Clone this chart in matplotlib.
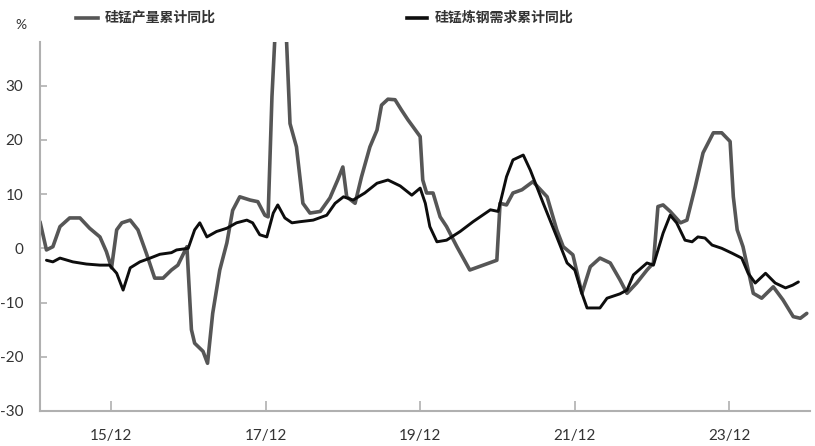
import matplotlib
matplotlib.use("Agg")
import matplotlib.pyplot as plt
from matplotlib.lines import Line2D

# x positions: months since Jan 2015 (0 = 2015-01)
prod_month = [0.0, 1.0, 2.0, 3.1, 4.6, 6.2, 7.7, 9.3, 10.3, 11.1, 11.9, 12.7, 14.0, 15.2, 16.5,
              17.8, 19.1, 20.4, 21.4, 22.8, 23.5, 24.0, 25.3, 26.0, 26.8, 27.9, 29.0, 29.9,
              31.0, 32.6, 33.8, 34.9, 35.4, 36.0, 36.5, 37.3, 38.2, 38.8, 39.8, 40.8, 41.9,
              43.5, 45.0, 46.2, 47.0, 47.6, 48.9, 49.9, 51.2, 52.3, 53.0, 54.0, 55.1, 56.1,
              57.1, 57.9, 59.0, 59.4, 60.0, 61.0, 62.1, 63.1, 64.7, 66.7, 68.8, 70.9, 71.4,
              72.4, 73.4, 74.8, 76.5, 78.7, 80.2, 81.2, 82.7, 84.1, 85.4, 86.9, 88.5, 90.0,
              91.1, 92.6, 94.2, 95.2, 95.9, 96.7, 97.8, 99.4, 100.4, 101.7, 102.9, 104.5,
              105.8, 107.1, 107.6, 108.2, 109.1, 110.7, 112.0, 113.8, 115.3, 116.9, 118.0, 119.0]
prod_yoy = [4.9, -0.3, 0.3, 4.0, 5.6, 5.6, 3.7, 2.1, -0.6, -3.6, 3.4, 4.7, 5.2, 3.4, -0.9,
            -5.5, -5.5, -4.0, -3.1, 0.3, -15.0, -17.5, -19.0, -21.2, -12.0, -4.0, 1.0, 7.0,
            9.5, 8.9, 8.6, 6.1, 5.8, 28.0, 40.0, 48.0, 40.0, 23.0, 18.7, 8.3, 6.5,
            6.8, 9.3, 12.6, 15.0, 9.5, 8.3, 13.2, 18.7, 21.8, 26.4, 27.5, 27.4, 25.5,
            23.7, 22.4, 20.6, 12.6, 10.2, 10.2, 5.8, 4.0, 0.3, -4.0, -3.1, -2.2, 8.3,
            8.0, 10.2, 10.8, 12.3, 9.5, 3.4, 0.3, -1.2, -8.3, -3.4, -1.8, -2.7, -5.8,
            -8.3, -6.4, -4.0, -2.7, 7.7, 8.0, 6.8, 4.7, 5.2, 11.4, 17.6, 21.3,
            21.3, 19.7, 9.5, 3.4, 0.3, -8.3, -9.2, -7.1, -9.5, -12.6, -12.9, -12.0]

dem_month = [1.0, 2.0, 3.1, 5.1, 7.2, 9.3, 10.8, 11.9, 12.9, 14.0, 15.5, 17.1, 18.6, 20.4,
             21.2, 23.0, 24.0, 24.8, 25.9, 27.4, 29.0, 30.5, 32.1, 33.0, 34.1, 35.2, 36.2,
             36.9, 38.0, 39.1, 40.3, 42.4, 44.5, 45.8, 47.1, 48.6, 50.4, 52.3, 54.0, 55.9,
             57.7, 59.0, 59.8, 60.5, 61.6, 63.1, 65.2, 67.2, 69.9, 71.1, 72.4, 73.4, 75.0,
             76.1, 78.1, 80.2, 81.8, 83.0, 84.1, 84.9, 86.9, 88.0, 90.0, 91.1, 92.1, 94.2,
             95.2, 96.7, 97.8, 98.8, 100.1, 101.2, 102.1, 103.2, 104.3, 105.8, 107.4, 108.9,
             109.9, 111.0, 112.6, 114.1, 115.7, 116.8, 117.7]
dem_yoy = [-2.2, -2.5, -1.8, -2.5, -2.9, -3.1, -3.1, -4.6, -7.7, -3.6, -2.5, -1.8, -1.1, -0.8,
           -0.3, 0.0, 3.4, 4.7, 2.1, 3.1, 3.7, 4.7, 5.2, 4.7, 2.5, 2.1, 6.5,
           8.0, 5.6, 4.7, 4.9, 5.2, 6.1, 8.3, 9.5, 8.9, 10.2, 12.0, 12.6, 11.5,
           9.8, 11.1, 8.3, 4.0, 1.2, 1.5, 3.1, 4.9, 7.1, 6.8, 13.2, 16.3, 17.2,
           14.4, 8.3, 2.1, -2.7, -4.0, -8.3, -11.0, -11.0, -9.2, -8.4, -7.7, -4.9, -2.7,
           -3.1, 2.8, 6.1, 4.7, 1.5, 1.2, 2.1, 1.9, 0.6, 0.0, -0.9, -1.8,
           -4.6, -6.4, -4.6, -6.4, -7.3, -6.8, -6.2]

tick_months = [11, 35, 59, 83, 107]
tick_labels = ["15/12", "17/12", "19/12", "21/12", "23/12"]
y_ticks = [-30, -20, -10, 0, 10, 20, 30]

series_names = ["硅锰产量累计同比", "硅锰炼钢需求累计同比"]

GRAY = "#565656"
BLACK = "#0d0d0d"
AXC = "#b0b0b0"
TXT = "#333333"

fig = plt.figure(figsize=(8.15, 4.46), dpi=100)
ax = fig.add_axes([40 / 815, 35 / 446, 770 / 815, (411 - 41.7) / 446])

ax.plot(prod_month, prod_yoy, color=GRAY, lw=2.6, solid_joinstyle="round", solid_capstyle="round", zorder=2)
ax.plot(dem_month, dem_yoy, color=BLACK, lw=2.1, solid_joinstyle="round", solid_capstyle="round", zorder=3)

ax.set_xlim(0, 119.5)
ax.set_ylim(-30, 38.1)

for s in ["top", "right"]:
    ax.spines[s].set_visible(False)
for s in ["left", "bottom"]:
    ax.spines[s].set_color(AXC)
    ax.spines[s].set_linewidth(1.5)

ax.set_xticks(tick_months)
ax.set_xticklabels(tick_labels)
ax.set_yticks(y_ticks)
ax.set_yticklabels([str(v) for v in y_ticks])
ax.tick_params(axis="x", direction="in", length=7, width=1.2, color=AXC, pad=13,
               labelsize=11, labelcolor=TXT)
ax.tick_params(axis="y", direction="in", length=5, width=1.2, color=AXC, pad=12,
               labelsize=11, labelcolor=TXT)
for lab in ax.get_xticklabels() + ax.get_yticklabels():
    lab.set_family(["Lato", "DejaVu Sans"])

fig.text(21 / 815, 1 - 25 / 446, "%", ha="center", va="center", fontsize=10, color=TXT,
         family=["Lato", "DejaVu Sans"])

# legend
fig.add_artist(Line2D([76 / 815, 98 / 815], [1 - 18 / 446] * 2, color=GRAY, lw=2.6,
                      transform=fig.transFigure))
fig.text(105 / 815, 1 - 18 / 446, series_names[0], ha="left", va="center", fontsize=10,
         fontweight="bold", color=TXT, family=["Noto Sans CJK SC", "DejaVu Sans"])
fig.add_artist(Line2D([407 / 815, 427 / 815], [1 - 18 / 446] * 2, color=BLACK, lw=2.6,
                      transform=fig.transFigure))
fig.text(435 / 815, 1 - 18 / 446, series_names[1], ha="left", va="center", fontsize=10,
         fontweight="bold", color=TXT, family=["Noto Sans CJK SC", "DejaVu Sans"])

fig.savefig("out.png", dpi=100)
